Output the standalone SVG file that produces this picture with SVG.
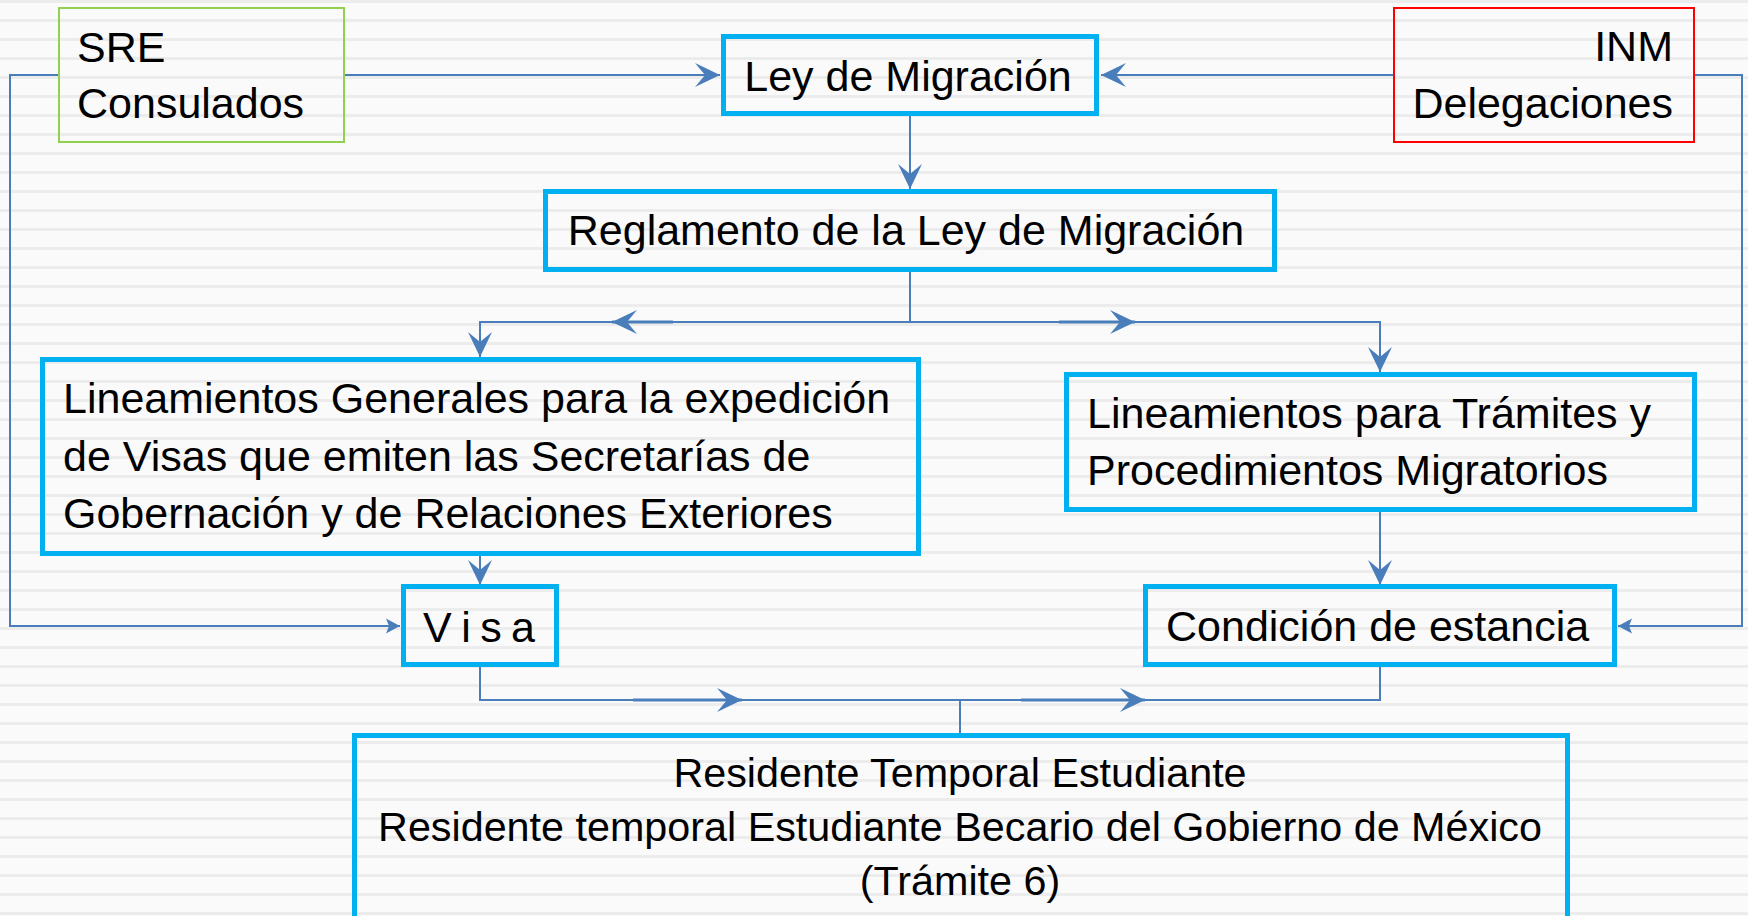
<svg xmlns="http://www.w3.org/2000/svg" width="1748" height="916" viewBox="0 0 1748 916">
<defs>
<pattern id="bg" width="1748" height="19" patternUnits="userSpaceOnUse">
<rect width="1748" height="19" fill="#fafafa"/>
<rect y="0" width="1748" height="3" fill="#ececec"/>
</pattern>
<marker id="big" markerUnits="userSpaceOnUse" viewBox="-26 -13 27 26" markerWidth="27" markerHeight="26" refX="0" refY="0" orient="auto">
<path d="M0,0 L-25,-12 L-15,0 L-25,12 Z" fill="#4a7ebb"/>
</marker>
<marker id="small" markerUnits="userSpaceOnUse" viewBox="-15 -8 16 16" markerWidth="16" markerHeight="16" refX="0" refY="0" orient="auto">
<path d="M0,0 L-14,-7.5 L-11,0 L-14,7.5 Z" fill="#4a7ebb"/>
</marker>
<style>
.box{fill:none;stroke:#00b0f0;stroke-width:5}
.t{font-family:"Liberation Sans",Arial,sans-serif;font-size:43px;fill:#000}
.r{font-size:41.3px}
.c{fill:none;stroke:#4a7ebb;stroke-width:2}
.m{fill:none;stroke:#4a7ebb;stroke-width:3}
</style>
</defs>
<rect width="1748" height="916" fill="url(#bg)"/>

<g id="connectors">
<path class="c" d="M345,75 L720,75" marker-end="url(#big)"/>
<path class="c" d="M1393,75 L1101,75" marker-end="url(#big)"/>
<path class="c" d="M58,75 L10,75 L10,626 L400,626" marker-end="url(#small)"/>
<path class="c" d="M1695,75 L1742,75 L1742,626 L1618,626" marker-end="url(#small)"/>
<path class="c" d="M910,116 L910,189" marker-end="url(#big)"/>
<path class="c" d="M910,272 L910,322 L480,322 L480,357" marker-end="url(#big)"/>
<path class="c" d="M910,322 L1380,322 L1380,372" marker-end="url(#big)"/>
<path class="m" d="M673,322 L612,322" marker-end="url(#big)"/>
<path class="m" d="M1059,322 L1135,322" marker-end="url(#big)"/>
<path class="c" d="M480,556 L480,585" marker-end="url(#big)"/>
<path class="c" d="M1380,512 L1380,585" marker-end="url(#big)"/>
<path class="c" d="M480,667 L480,700 L1380,700 L1380,667"/>
<path class="c" d="M960,700 L960,734"/>
<path class="m" d="M633,700 L742,700" marker-end="url(#big)"/>
<path class="m" d="M1021,700 L1145,700" marker-end="url(#big)"/>
</g>

<g id="sre">
<rect x="59" y="8" width="285" height="134" fill="none" stroke="#92d050" stroke-width="2"/>
<text class="t" x="77" y="62">SRE</text>
<text class="t" x="77" y="118">Consulados</text>
</g>

<g id="inm">
<rect x="1394" y="8" width="300" height="134" fill="none" stroke="#ff0000" stroke-width="2"/>
<text class="t" x="1673" y="61" text-anchor="end">INM</text>
<text class="t" x="1673" y="118" text-anchor="end">Delegaciones</text>
</g>

<g id="ley">
<rect class="box" x="723.5" y="36.5" width="373" height="77"/>
<text class="t" x="908" y="91" text-anchor="middle">Ley de Migración</text>
</g>

<g id="reglamento">
<rect class="box" x="545.5" y="191.5" width="729" height="78"/>
<text class="t" x="906" y="245" text-anchor="middle">Reglamento de la Ley de Migración</text>
</g>

<g id="lineamientos-visas">
<rect class="box" x="42.5" y="359.5" width="876" height="194"/>
<text class="t" x="63" y="413">Lineamientos Generales para la expedición</text>
<text class="t" x="63" y="471">de Visas que emiten las Secretarías de</text>
<text class="t" x="63" y="528">Gobernación y de Relaciones Exteriores</text>
</g>

<g id="lineamientos-tramites">
<rect class="box" x="1066.5" y="374.5" width="628" height="135"/>
<text class="t" x="1087" y="428">Lineamientos para Trámites y</text>
<text class="t" x="1087" y="485">Procedimientos Migratorios</text>
</g>

<g id="visa">
<rect class="box" x="403.5" y="586.5" width="153" height="78"/>
<text class="t" x="423" y="642" textLength="112">V i s a</text>
</g>

<g id="condicion">
<rect class="box" x="1145.5" y="586.5" width="469" height="78"/>
<text class="t" x="1166" y="641">Condición de estancia</text>
</g>

<g id="residente">
<rect class="box" x="354.5" y="735.5" width="1213" height="200"/>
<text class="t r" x="960" y="787" text-anchor="middle">Residente Temporal Estudiante</text>
<text class="t r" x="960" y="841" text-anchor="middle">Residente temporal Estudiante Becario del Gobierno de México</text>
<text class="t r" x="960" y="895" text-anchor="middle">(Trámite 6)</text>
</g>
</svg>
